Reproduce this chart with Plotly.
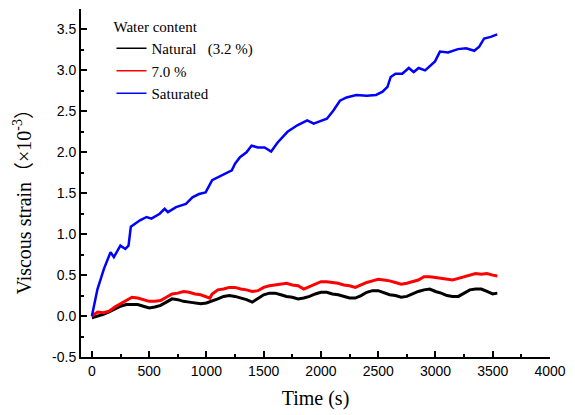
import plotly.graph_objects as go

# Time (s) and viscous strain (x10^-3)
t_nat = [0, 50, 100, 150, 200, 250, 300, 350, 400, 450, 500, 550, 600, 650, 700, 750, 800, 850, 900, 950,
         1000, 1050, 1100, 1150, 1200, 1250, 1300, 1350, 1400, 1450, 1500, 1550, 1600, 1650, 1700, 1750,
         1800, 1850, 1900, 1950, 2000, 2050, 2100, 2150, 2200, 2250, 2300, 2350, 2400, 2450, 2500, 2550,
         2600, 2650, 2700, 2750, 2800, 2850, 2900, 2950, 3000, 3050, 3100, 3150, 3200, 3250, 3300, 3350,
         3400, 3450, 3500, 3540]
v_nat = [-0.02, 0.00, 0.02, 0.05, 0.09, 0.12, 0.14, 0.14, 0.14, 0.12, 0.10, 0.11, 0.13, 0.17, 0.21, 0.20,
         0.18, 0.17, 0.16, 0.15, 0.16, 0.19, 0.21, 0.24, 0.25, 0.24, 0.22, 0.20, 0.17, 0.22, 0.26, 0.28,
         0.28, 0.26, 0.24, 0.23, 0.21, 0.22, 0.24, 0.27, 0.29, 0.29, 0.27, 0.26, 0.24, 0.22, 0.22, 0.25,
         0.29, 0.31, 0.31, 0.28, 0.26, 0.25, 0.23, 0.24, 0.27, 0.30, 0.32, 0.33, 0.30, 0.28, 0.25, 0.24,
         0.24, 0.28, 0.32, 0.33, 0.33, 0.30, 0.27, 0.28]

t_70 = [0, 50, 100, 150, 200, 250, 300, 350, 400, 450, 500, 550, 600, 650, 700, 750, 800, 850, 900, 950,
        1000, 1030, 1050, 1100, 1150, 1200, 1250, 1300, 1350, 1400, 1450, 1500, 1550, 1600, 1650, 1700,
        1750, 1800, 1850, 1900, 1950, 2000, 2050, 2100, 2150, 2200, 2250, 2300, 2350, 2400, 2450, 2500,
        2550, 2600, 2650, 2700, 2750, 2800, 2850, 2900, 2950, 3000, 3050, 3100, 3150, 3200, 3250, 3300,
        3350, 3400, 3450, 3500, 3540]
v_70 = [0.00, 0.05, 0.04, 0.06, 0.11, 0.15, 0.19, 0.23, 0.22, 0.20, 0.18, 0.18, 0.19, 0.23, 0.27, 0.28,
        0.30, 0.29, 0.27, 0.26, 0.24, 0.22, 0.27, 0.32, 0.33, 0.35, 0.35, 0.33, 0.32, 0.30, 0.31, 0.35,
        0.37, 0.38, 0.39, 0.40, 0.38, 0.37, 0.33, 0.36, 0.39, 0.42, 0.42, 0.41, 0.40, 0.38, 0.37, 0.35,
        0.38, 0.41, 0.43, 0.45, 0.44, 0.43, 0.41, 0.39, 0.40, 0.42, 0.44, 0.48, 0.48, 0.47, 0.46, 0.45,
        0.44, 0.46, 0.48, 0.50, 0.52, 0.51, 0.52, 0.50, 0.49]

t_sat = [0, 49, 106, 163, 192, 249, 292, 320, 340, 420, 478, 520, 592, 635, 664, 735, 821, 878, 935, 993,
         1050, 1136, 1222, 1250, 1293, 1350, 1394, 1450, 1508, 1565, 1622, 1708, 1794, 1880, 1937, 1994,
         2052, 2109, 2166, 2223, 2309, 2400, 2481, 2538, 2581, 2609, 2652, 2710, 2767, 2810, 2853, 2910,
         2967, 2996, 3039, 3110, 3196, 3268, 3339, 3382, 3425, 3482, 3539]
v_sat = [0.00, 0.33, 0.58, 0.78, 0.72, 0.86, 0.82, 0.86, 1.09, 1.17, 1.21, 1.19, 1.25, 1.31, 1.27, 1.33,
         1.37, 1.45, 1.49, 1.51, 1.66, 1.72, 1.78, 1.86, 1.94, 2.00, 2.08, 2.06, 2.06, 2.01, 2.12, 2.25,
         2.33, 2.39, 2.35, 2.38, 2.41, 2.51, 2.63, 2.67, 2.70, 2.69, 2.70, 2.74, 2.80, 2.92, 2.96, 2.96,
         3.03, 2.98, 3.03, 3.00, 3.07, 3.11, 3.23, 3.22, 3.26, 3.27, 3.24, 3.29, 3.39, 3.41, 3.44]

names = ["Natural\u00a0\u00a0\u00a0(3.2 %)", "7.0 %", "Saturated"]
colors = ["#000000", "#ff0000", "#0000ff"]
y_ticks = [-0.5, 0.0, 0.5, 1.0, 1.5, 2.0, 2.5, 3.0, 3.5]
y_ticktext = ["-0.5", "0.0", "0.5", "1.0", "1.5", "2.0", "2.5", "3.0", "3.5"]

serif = "Liberation Serif, Times New Roman"
sans = "Liberation Sans, Arial"

fig = go.Figure()
series = [(t_nat, v_nat, 3), (t_70, v_70, 3), (t_sat, v_sat, 2.5)]
for (tx, vy, w), nm, c in zip(series, names, colors):
    fig.add_trace(go.Scatter(x=tx, y=vy, mode="lines", name=nm, showlegend=False,
                             line=dict(color=c, width=w)))
# legend entries with thin sample lines
for nm, c in zip(names, colors):
    fig.add_trace(go.Scatter(x=[None], y=[None], mode="lines", name=nm,
                             line=dict(color=c, width=1.5)))

axis_common = dict(showline=True, linecolor="black", linewidth=2, ticks="inside", ticklen=6,
                   tickwidth=2, tickcolor="black", showgrid=False, zeroline=False, mirror=False,
                   tickfont=dict(family=sans, size=14, color="black"))

fig.update_xaxes(range=[-95, 4000], dtick=500, tick0=0,
                 title=dict(text="Time (s)", font=dict(family=serif, size=20, color="black"), standoff=13),
                 minor=dict(ticks="inside", ticklen=3, tickwidth=2, tickcolor="black", dtick=250, tick0=0),
                 **axis_common)
fig.update_yaxes(range=[-0.5, 3.75], tickmode="array", tickvals=y_ticks, ticktext=y_ticktext,
                 minor=dict(ticks="inside", ticklen=3, tickwidth=2, tickcolor="black", dtick=0.25, tick0=0),
                 **axis_common)

fig.add_annotation(text="Viscous strain\uff08\u00d710<sup>-3</sup>\uff09",
                   xref="paper", yref="paper", x=-0.125, y=0.462, xanchor="center", yanchor="middle",
                   textangle=-90, showarrow=False,
                   font=dict(family=serif + ", Noto Sans CJK SC", size=20, color="black"))

fig.update_layout(
    width=575, height=415,
    margin=dict(l=81, r=18, t=9, b=57),
    paper_bgcolor="white", plot_bgcolor="white",
    showlegend=True,
    legend=dict(x=0.065, y=0.99, xanchor="left", yanchor="top", bgcolor="rgba(0,0,0,0)",
                title=dict(text="Water content", font=dict(family=serif, size=15, color="black")),
                font=dict(family=serif, size=15, color="black"),
                tracegroupgap=0, itemwidth=30),
)

fig.write_html("out.html")
